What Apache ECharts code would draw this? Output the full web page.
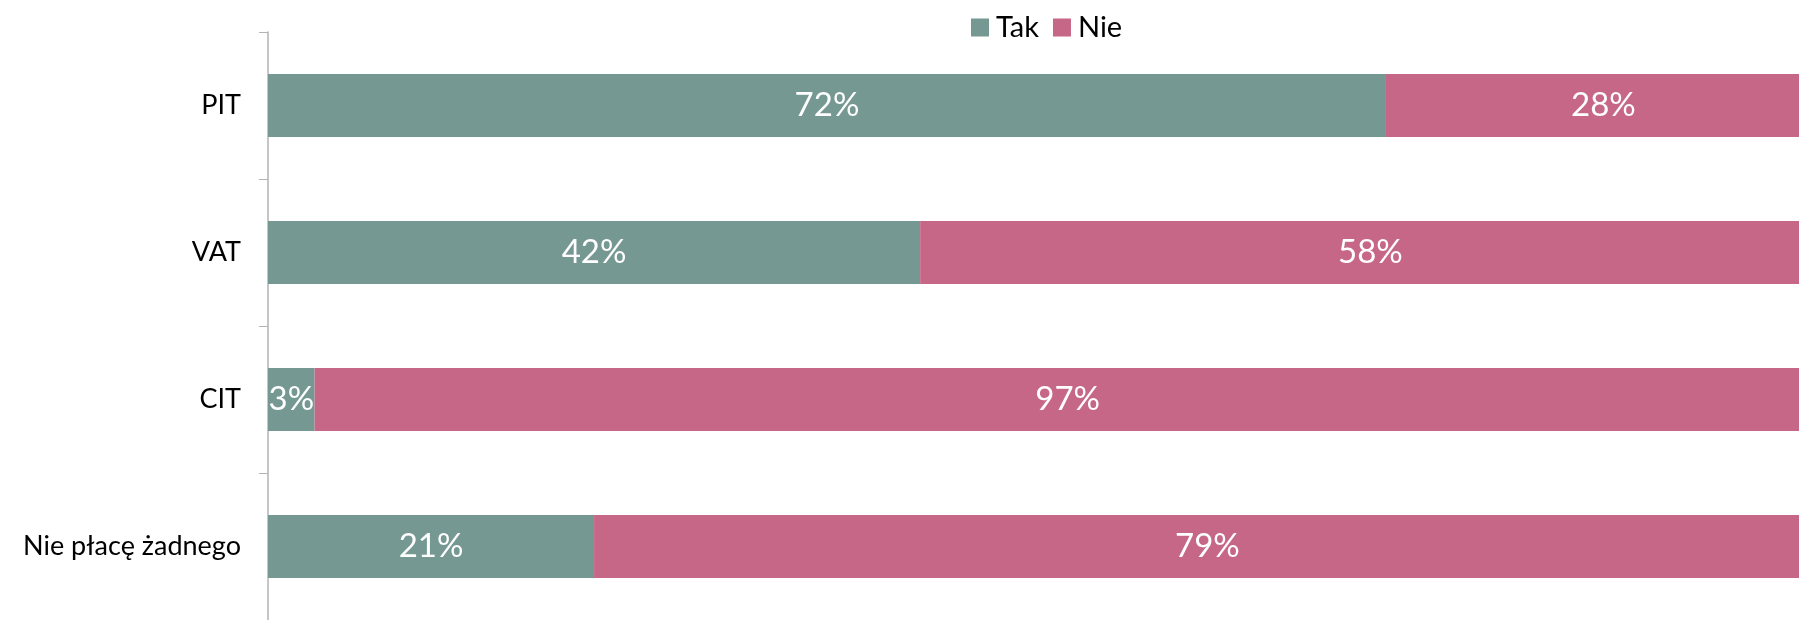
<!DOCTYPE html>
<html>
<head>
<meta charset="utf-8">
<script src="https://cdn.jsdelivr.net/npm/echarts@6/dist/echarts.min.js"></script>
<style>html,body{margin:0;padding:0;background:#fff;}#c{width:1799px;height:620px;}</style>
</head>
<body>
<div id="c"></div>
<script>
const categories = ['PIT', 'VAT', 'CIT', 'Nie płacę żadnego'];
const seriesNames = ['Tak', 'Nie'];
const takValues = [72, 42, 3, 21];
const nieValues = [28, 58, 97, 79];

const chart = echarts.init(document.getElementById('c'));
const FONT = 'Lato';
const labelCfg = {
  show: true,
  position: 'inside',
  color: '#ffffff',
  fontFamily: FONT,
  fontSize: 33,
  formatter: p => p.value + '%'
};
chart.setOption({
  animation: false,
  legend: {
    top: 8,
    left: 966,
    itemWidth: 18,
    itemHeight: 18,
    itemGap: 14,
    icon: 'rect',
    textStyle: { fontFamily: FONT, fontSize: 29, color: '#000', padding: [0, 0, 0, 2] },
    data: seriesNames
  },
  grid: { left: 268, top: 32, right: 0, height: 590, containLabel: false },
  xAxis: { type: 'value', min: 0, max: 98.6, show: false },
  yAxis: {
    type: 'category',
    inverse: true,
    data: categories,
    axisLine: { show: true, lineStyle: { color: '#b3b3b3', width: 1.5 } },
    axisTick: { show: true, length: 9, lineStyle: { color: '#b3b3b3' } },
    axisLabel: { fontFamily: FONT, fontSize: 27, color: '#000', margin: 27 },
    splitLine: { show: false }
  },
  series: [
    { name: seriesNames[0], type: 'bar', stack: 's', data: takValues, barWidth: 63, clip: false,
      itemStyle: { color: '#759893' }, label: labelCfg },
    { name: seriesNames[1], type: 'bar', stack: 's', data: nieValues, barWidth: 63, clip: false,
      itemStyle: { color: '#c76787' }, label: labelCfg }
  ]
});
</script>
</body>
</html>
